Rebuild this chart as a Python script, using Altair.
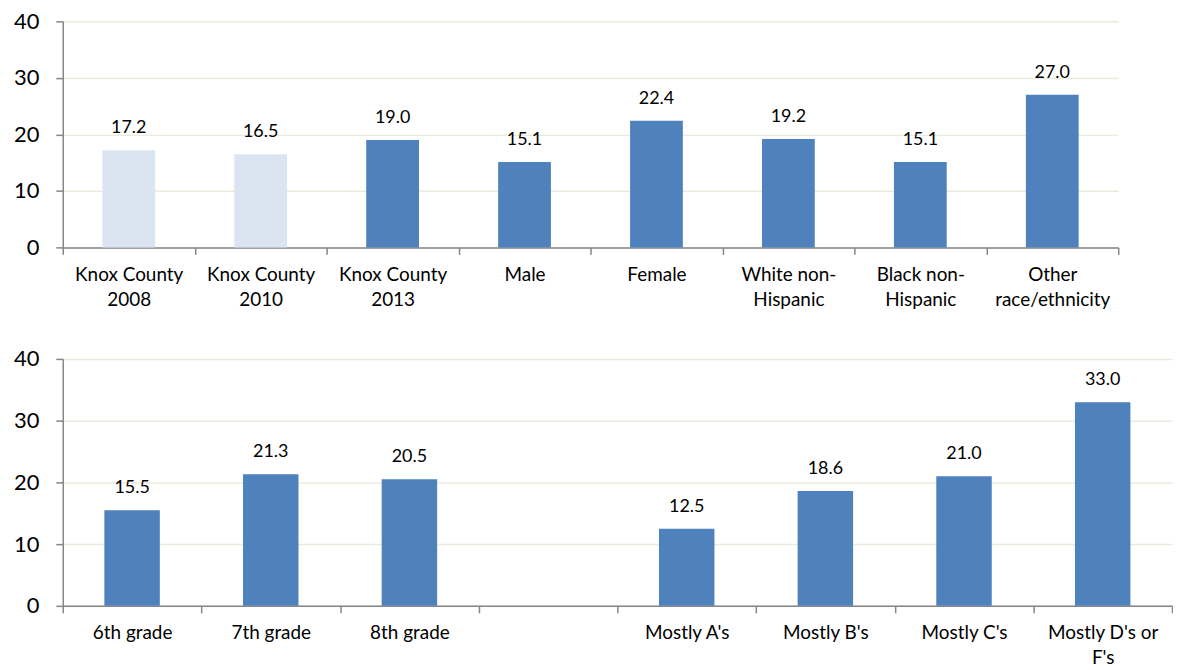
import altair as alt
import pandas as pd

# ---- data ----
top_categories = ["Knox County|2008", "Knox County|2010", "Knox County|2013", "Male",
                  "Female", "White non-|Hispanic", "Black non-|Hispanic", "Other|race/ethnicity"]
top_values = [17.2, 16.5, 19.0, 15.1, 22.4, 19.2, 15.1, 27.0]
top_series = ["Earlier", "Earlier", "2013", "2013", "2013", "2013", "2013", "2013"]

bottom_categories = ["6th grade", "7th grade", "8th grade", " ", "Mostly A's",
                     "Mostly B's", "Mostly C's", "Mostly D's or|F's"]
bottom_values = [15.5, 21.3, 20.5, None, 12.5, 18.6, 21.0, 33.0]

y_ticks = [0, 10, 20, 30, 40]

FONT = "Lato"
DARK = "#4F81BD"
LIGHT = "#DBE5F1"
GRID = "#ECE9DE"
AXIS = "#868686"

top_df = pd.DataFrame({"cat": top_categories, "value": top_values, "series": top_series})
bot_df = pd.DataFrame({"cat": bottom_categories, "value": bottom_values})
bot_df = bot_df.dropna()


def x_axis():
    return alt.Axis(title=None, labelAngle=0, labelFont=FONT, labelFontSize=19,
                    labelColor="#000000", labelPadding=11, labelLineHeight=25,
                    labelExpr="split(datum.label, '|')", domainColor=AXIS, domainWidth=1.5,
                    tickColor=AXIS, tickWidth=1.5, tickSize=7, tickBand="extent",
                    grid=False, labelLimit=200)


def y_axis():
    return alt.Axis(title=None, values=y_ticks, labelFont=FONT, labelFontSize=22,
                    labelColor="#000000", labelPadding=17, domainColor=AXIS, domainWidth=1.5,
                    tickColor=AXIS, tickWidth=1.5, tickSize=7, gridColor=GRID, gridWidth=1.5)


def panel(df, cats, width, height, color_enc):
    xscale = alt.Scale(domain=cats, paddingInner=0, paddingOuter=0)
    yscale = alt.Scale(domain=[0, 40], nice=False)
    bars = alt.Chart(df).mark_bar(width=alt.RelativeBandSize(0.4)).encode(
        x=alt.X("cat:N", sort=cats, scale=xscale, axis=x_axis()),
        y=alt.Y("value:Q", scale=yscale, axis=y_axis()), color=color_enc)
    labels = alt.Chart(df).mark_text(font=FONT, fontSize=18, dy=-17, baseline="alphabetic",
                                     color="#000000").encode(
        x=alt.X("cat:N", sort=cats, scale=xscale, axis=x_axis()),
        y=alt.Y("value:Q", scale=yscale, axis=y_axis()),
        text=alt.Text("value:Q", format=".1f"))
    return alt.layer(bars, labels).properties(width=width, height=height)


top_color = alt.Color("series:N", scale=alt.Scale(domain=["Earlier", "2013"], range=[LIGHT, DARK]),
                      legend=None)
top = panel(top_df, top_categories, 1060, 227, top_color)
bottom = panel(bot_df, bottom_categories, 1114, 248, alt.value(DARK))

chart = alt.vconcat(top, bottom, spacing=39).properties(
    padding={"left": 5, "top": 1, "right": 0, "bottom": 0}
).configure(background="#ffffff").configure_view(stroke=None).configure_axisX(grid=False)

chart.save("out.html", embed_options={"renderer": "svg", "actions": False})
